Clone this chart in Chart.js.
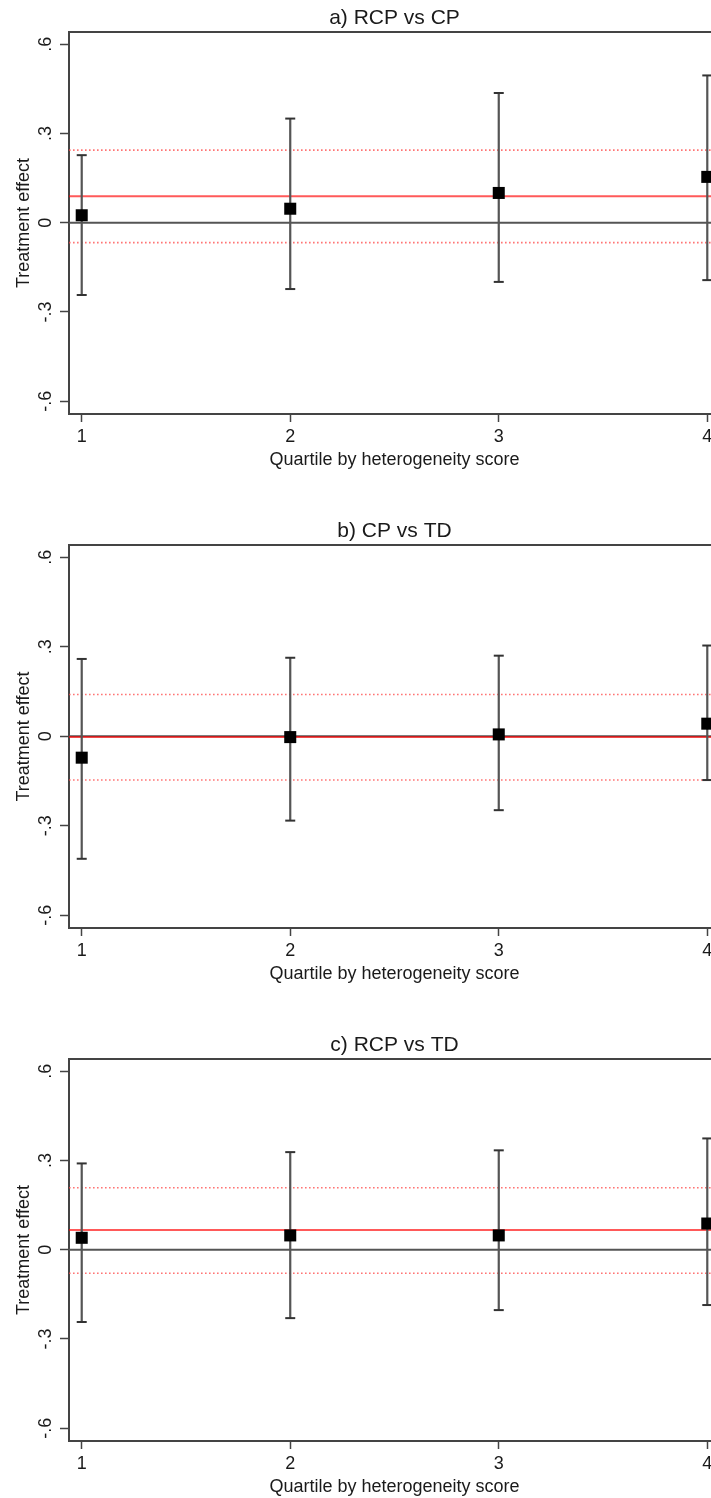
<!DOCTYPE html>
<html>
<head>
<meta charset="utf-8">
<script src="https://cdn.jsdelivr.net/npm/chart.js@4.4.3/dist/chart.umd.min.js"></script>
<style>
  html, body { margin: 0; padding: 0; background: #fff; }
  body { width: 711px; height: 1498px; overflow: hidden; position: relative; }
  canvas { position: absolute; left: 0; }
</style>
</head>
<body>
<canvas id="panelA" width="730" height="480" style="top:0px"></canvas>
<canvas id="panelB" width="730" height="481" style="top:513px"></canvas>
<canvas id="panelC" width="730" height="480" style="top:1027px"></canvas>
<script>
// quartiles and axis ticks
const quartiles = [1, 2, 3, 4];
const yTickValues = [-0.6, -0.3, 0, 0.3, 0.6];
const yTickLabels = ['-.6', '-.3', '0', '.3', '.6'];
const X_MIN = 0.939, X_MAX = 4.061;
const Y_MIN = -0.643, Y_MAX = 0.641;

// a) RCP vs CP
const titleA = 'a) RCP vs CP';
const estA = [0.025, 0.047, 0.100, 0.154];
const loA = [-0.243, -0.223, -0.199, -0.193];
const hiA = [0.227, 0.350, 0.436, 0.495];
const avgA = [0.089, -0.067, 0.244]; // mean, lower, upper

// b) CP vs TD
const titleB = 'b) CP vs TD';
const estB = [-0.072, -0.003, 0.006, 0.042];
const loB = [-0.411, -0.283, -0.248, -0.147];
const hiB = [0.259, 0.263, 0.270, 0.304];
const avgB = [-0.003, -0.147, 0.140];

// c) RCP vs TD
const titleC = 'c) RCP vs TD';
const estC = [0.040, 0.048, 0.048, 0.088];
const loC = [-0.243, -0.230, -0.203, -0.186];
const hiC = [0.290, 0.328, 0.334, 0.374];
const avgC = [0.066, -0.079, 0.208];

Chart.defaults.font.family = '"Liberation Sans", Arial, Helvetica, sans-serif';
Chart.defaults.color = '#1a1a1a';

// top outline of the plot region
const frameTop = {
  id: 'frameTop',
  beforeDatasetsDraw(chart) {
    const a = chart.chartArea, ctx = chart.ctx;
    ctx.save();
    ctx.strokeStyle = '#444';
    ctx.lineWidth = 2;
    ctx.beginPath();
    ctx.moveTo(a.left, a.top);
    ctx.lineTo(a.right, a.top);
    ctx.stroke();
    ctx.restore();
  }
};

function hline(y, color, width, dash) {
  return {
    type: 'line',
    data: [{x: X_MIN, y: y}, {x: X_MAX, y: y}],
    borderColor: color,
    borderWidth: width,
    borderDash: dash || [],
    pointRadius: 0
  };
}

function makePanel(id, title, est, lo, hi, avg) {
  const bars = [];
  quartiles.forEach((q, i) => {
    bars.push({x: q, y: lo[i]}, {x: q, y: hi[i]}, {x: q, y: null});
  });
  return new Chart(document.getElementById(id), {
    type: 'line',
    data: {
      datasets: [
        {
          type: 'scatter',
          data: quartiles.map((q, i) => ({x: q, y: est[i]})),
          pointStyle: 'rect',
          pointRadius: 8.5,
          pointBackgroundColor: '#000',
          pointBorderWidth: 0
        },
        {
          data: bars,
          borderColor: '#555',
          borderWidth: 2.2,
          spanGaps: false,
          pointStyle: 'line',
          pointRadius: 5,
          pointBorderColor: '#333',
          pointBorderWidth: 2
        },
        hline(avg[0], 'rgba(255,0,0,0.65)', 2),
        hline(0, '#555', 2),
        hline(avg[1], 'rgba(255,70,70,0.75)', 1.6, [1.6, 2.4]),
        hline(avg[2], 'rgba(255,70,70,0.75)', 1.6, [1.6, 2.4])
      ]
    },
    options: {
      responsive: false,
      animation: false,
      layout: {padding: {left: 0, right: 10, top: 0, bottom: 0}},
      plugins: {
        legend: {display: false},
        tooltip: {enabled: false},
        title: {
          display: true,
          fullSize: false,
          text: title,
          font: {size: 21, weight: 'normal'},
          color: '#1a1a1a',
          padding: {top: 6, bottom: 0.8}
        }
      },
      scales: {
        x: {
          type: 'linear',
          min: X_MIN,
          max: X_MAX,
          afterBuildTicks: axis => { axis.ticks = quartiles.map(v => ({value: v})); },
          afterFit: axis => { axis.height = 66; },
          ticks: {autoSkip: false, padding: 4, font: {size: 18}, callback: v => String(v)},
          grid: {drawOnChartArea: false, drawTicks: true, tickLength: 8, tickColor: '#444', tickWidth: 1.5},
          border: {display: true, color: '#444', width: 2},
          title: {display: true, text: 'Quartile by heterogeneity score', font: {size: 18}, padding: {top: 0, bottom: 9}}
        },
        y: {
          type: 'linear',
          min: Y_MIN,
          max: Y_MAX,
          afterBuildTicks: axis => { axis.ticks = yTickValues.map(v => ({value: v})); },
          afterFit: axis => { axis.width = 69; },
          ticks: {
            minRotation: 90,
            maxRotation: 90,
            crossAlign: 'center',
            padding: 3,
            font: {size: 18},
            callback: v => yTickLabels[yTickValues.indexOf(v)]
          },
          grid: {drawOnChartArea: false, drawTicks: true, tickLength: 9, tickColor: '#444', tickWidth: 1.5},
          border: {display: true, color: '#444', width: 2},
          title: {display: true, text: 'Treatment effect', font: {size: 18}, padding: {top: 13, bottom: 0}}
        }
      }
    },
    plugins: [frameTop]
  });
}

makePanel('panelA', titleA, estA, loA, hiA, avgA);
makePanel('panelB', titleB, estB, loB, hiB, avgB);
makePanel('panelC', titleC, estC, loC, hiC, avgC);
</script>
</body>
</html>
